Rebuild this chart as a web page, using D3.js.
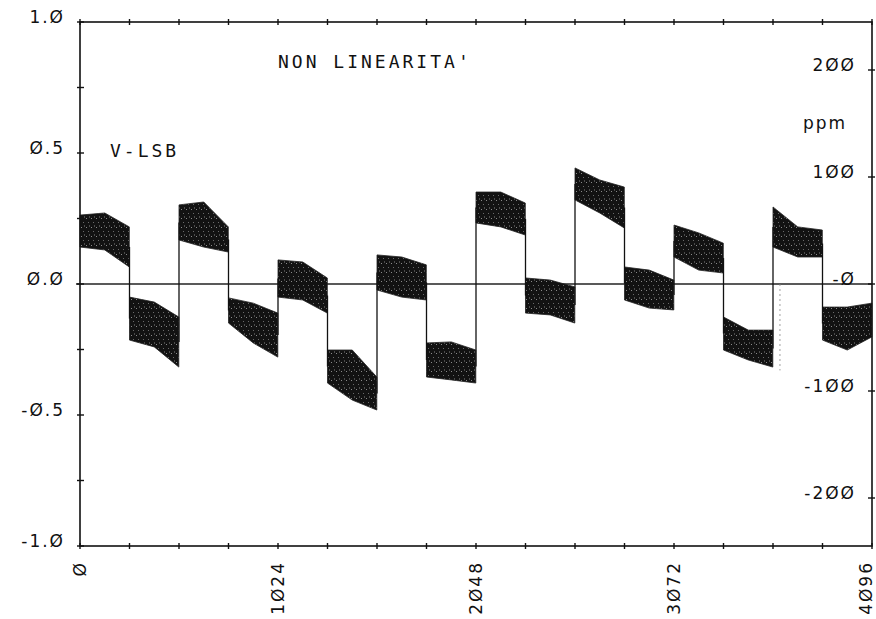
<!DOCTYPE html>
<html><head><meta charset="utf-8">
<script src="https://cdn.jsdelivr.net/npm/d3@7"></script>
<style>
html,body{margin:0;padding:0;background:#fff;}
svg text{font-family:"DejaVu Sans",sans-serif;font-size:17px;fill:#111;letter-spacing:2px;}
svg text.mono{font-family:"DejaVu Sans Mono",monospace;font-size:18px;letter-spacing:3px;}
</style></head>
<body><svg id="c" width="876" height="619"></svg>
<script>
// segment start codes (each segment spans 256 codes)
const segStart = [0,256,512,768,1024,1280,1536,1792,2048,2304,2560,2816,3072,3328,3584,3840];
// upper / lower envelope of the noisy band (V-LSB) at segment start, middle, end
const upStart = [0.263,-0.050,0.302,-0.053,0.092,-0.252,0.111,-0.225,0.351,0.023,0.443,0.065,0.225,-0.126,0.294,-0.088];
const upMid   = [0.271,-0.069,0.313,-0.073,0.084,-0.252,0.103,-0.221,0.351,0.015,0.397,0.053,0.195,-0.176,0.218,-0.088];
const upEnd   = [0.218,-0.126,0.218,-0.111,0.023,-0.355,0.073,-0.252,0.309,-0.011,0.370,0.015,0.156,-0.176,0.206,-0.073];
const loStart = [0.141,-0.214,0.168,-0.149,-0.050,-0.378,-0.023,-0.355,0.233,-0.111,0.321,-0.061,0.103,-0.252,0.141,-0.214];
const loMid   = [0.130,-0.240,0.141,-0.225,-0.061,-0.443,-0.050,-0.366,0.218,-0.118,0.271,-0.092,0.053,-0.290,0.103,-0.252];
const loEnd   = [0.065,-0.317,0.122,-0.279,-0.111,-0.481,-0.061,-0.378,0.187,-0.149,0.214,-0.099,0.042,-0.317,0.103,-0.202];

const xTicks = [0,256,512,768,1024,1280,1536,1792,2048,2304,2560,2816,3072,3328,3584,3840,4096];
const xLabels = [0,1024,2048,3072,4096];
const yTicks = [-1,-0.75,-0.5,-0.25,0,0.25,0.5,0.75,1];
const yLabels = [[1,"1.Ø"],[0.5,"Ø.5"],[0,"Ø.Ø"],[-0.5,"-Ø.5"],[-1,"-1.Ø"]];
const ppmTicks = [200,100,0,-100,-200];
const ppmLabels = ["2ØØ","1ØØ","-Ø","-1ØØ","-2ØØ"];

const svg = d3.select("#c");
const x = d3.scaleLinear().domain([0,4096]).range([80,872]);
const y = d3.scaleLinear().domain([-1,1]).range([546,22]);
const yp = d3.scaleLinear().domain([-200,200]).range([498,70]);

// texture pattern for the dense noisy band
const defs = svg.append("defs");
const pat = defs.append("pattern").attr("id","noise").attr("patternUnits","userSpaceOnUse")
  .attr("width",5).attr("height",9);
pat.append("rect").attr("width",5).attr("height",9).attr("fill","#121212");
pat.append("rect").attr("x",1).attr("y",2).attr("width",1).attr("height",1).attr("fill","#8a8a8a");
pat.append("rect").attr("x",3).attr("y",6).attr("width",1).attr("height",1).attr("fill","#6a6a6a");
pat.append("rect").attr("x",4).attr("y",0).attr("width",1).attr("height",2).attr("fill","#4a4a4a");

// zero line
svg.append("line").attr("x1",x(0)-4).attr("x2",x(4096)).attr("y1",y(0)).attr("y2",y(0))
  .attr("stroke","#222").attr("stroke-width",1.3);

// faint dashed vertical artifact line
svg.append("line").attr("x1",x(3620)).attr("x2",x(3620)).attr("y1",y(0)).attr("y2",y(-0.33))
  .attr("stroke","#888").attr("stroke-width",0.8).attr("stroke-dasharray","2,3");

// bands
const area = d3.area().x(d=>x(d.c)).y0(d=>y(d.lo)).y1(d=>y(d.hi));
segStart.forEach((s,i)=>{
  const pts = [
    {c:s, hi:upStart[i], lo:loStart[i]},
    {c:s+128, hi:upMid[i], lo:loMid[i]},
    {c:s+255, hi:upEnd[i], lo:loEnd[i]}
  ];
  svg.append("path").datum(pts).attr("d",area)
    .attr("fill","url(#noise)").attr("stroke","#222").attr("stroke-width",0.8);
  if(i>0){
    const a = (upEnd[i-1]+loEnd[i-1])/2, b=(upStart[i]+loStart[i])/2;
    svg.append("line").attr("x1",x(s)).attr("x2",x(s)).attr("y1",y(a)).attr("y2",y(b))
      .attr("stroke","#111").attr("stroke-width",1.3);
  }
});

// frame
const fr = svg.append("g").attr("stroke","#111").attr("stroke-width",1.6).attr("fill","none");
fr.append("rect").attr("x",x(0)).attr("y",y(1)).attr("width",x(4096)-x(0)).attr("height",y(-1)-y(1));

// ticks
const tk = svg.append("g").attr("stroke","#111").attr("stroke-width",1.4);
xTicks.forEach(t=>{
  [y(1),y(-1)].forEach(yy=>{
    tk.append("line").attr("x1",x(t)).attr("x2",x(t)).attr("y1",yy-3).attr("y2",yy+3);
  });
});
yTicks.forEach(t=>{
  tk.append("line").attr("x1",x(0)-3).attr("x2",x(0)+4).attr("y1",y(t)).attr("y2",y(t));
});
ppmTicks.forEach(t=>{
  tk.append("line").attr("x1",x(4096)-4).attr("x2",x(4096)+3).attr("y1",yp(t)).attr("y2",yp(t));
});

// labels
yLabels.forEach(([v,l])=>{
  svg.append("text").attr("x",65).attr("y",y(v)+1).attr("text-anchor","end").text(l);
});
ppmTicks.forEach((t,i)=>{
  svg.append("text").attr("x",856).attr("y",yp(t)+1).attr("text-anchor","end").text(ppmLabels[i]);
});
xLabels.forEach(v=>{
  const cx = Math.min(x(v), 866);
  svg.append("text").attr("transform",`translate(${cx},561) rotate(-90)`)
    .attr("text-anchor","end").attr("dominant-baseline","central").text(String(v).replace(/0/g,"Ø"));
});
svg.append("text").attr("class","mono").attr("x",278).attr("y",68).text("NON LINEARITA'");
svg.append("text").attr("class","mono").attr("x",110).attr("y",157).text("V-LSB");
svg.append("text").attr("x",803).attr("y",129).text("ppm");
</script></body></html>
